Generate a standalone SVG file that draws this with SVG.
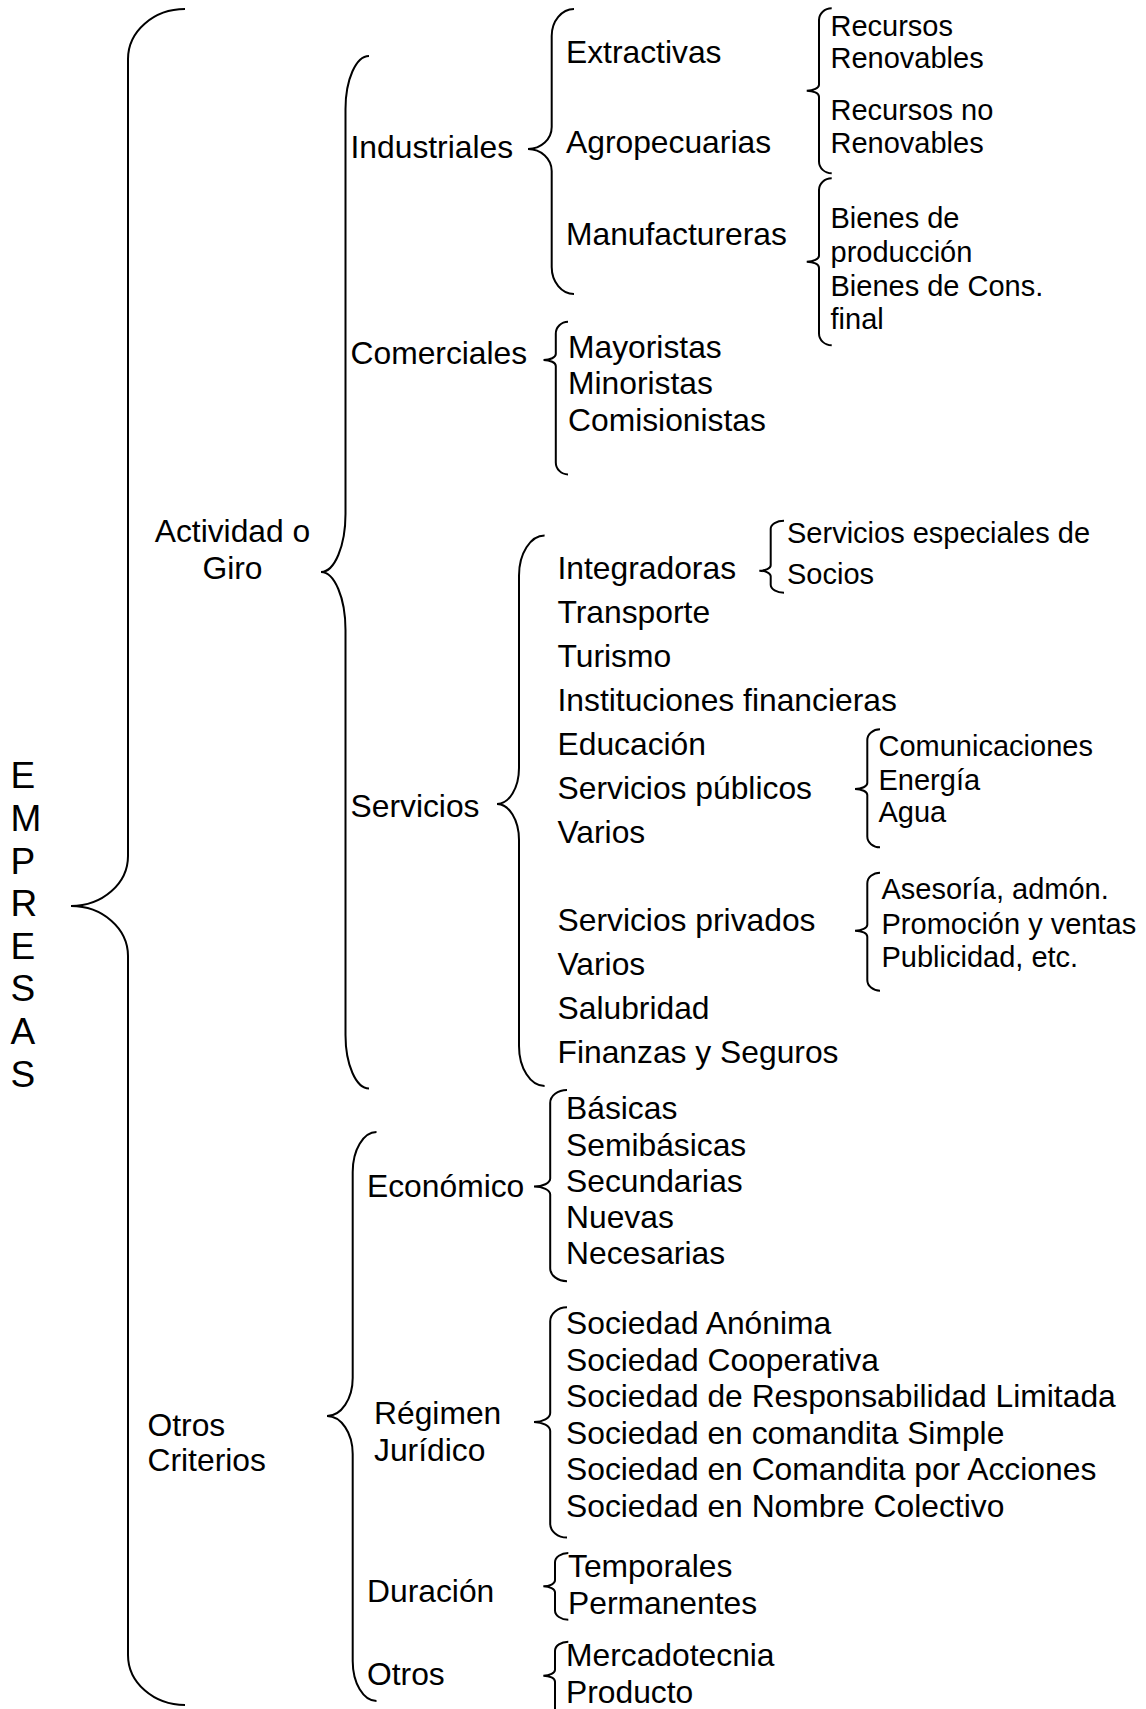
<svg xmlns="http://www.w3.org/2000/svg" width="1146" height="1709" viewBox="0 0 1146 1709">
<style>
text{font-family:"Liberation Sans",Arial,sans-serif;fill:#000}
.m{font-size:31.8px}
.s{font-size:29px}
.e{font-size:37px}
.b{fill:none;stroke:#000;stroke-width:2}
</style>
<rect width="1146" height="1709" fill="#fff"/>
<g id="connectors">
<path class="b" d="M185,9 C153.5,9 128,31.4 128,59 L128,856 C128,883.6 102.5,906 71,906 C102.5,906 128,928.4 128,956 L128,1655 C128,1682.6 153.5,1705 185,1705"/>
<path class="b" d="M369,56 C356,56 345.5,79.7 345.5,109 L345.5,514 C345.5,546 334.5,572 321,572 C334.5,572 345.5,598 345.5,630 L345.5,1035 C345.5,1064.3 356,1088.5 369,1088.5"/>
<path class="b" d="M574,9 C561.7,9 551.7,21.1 551.7,36 L551.7,127 C551.7,139.1 541.1,149 528,149 C541.1,149 551.7,158.9 551.7,171 L551.7,267 C551.7,281.9 561.7,294 574,294"/>
<path class="b" d="M831.7,8.3 C824.7,8.3 819,13.5 819,20 L819,84.7 C819,88 813.5,90.7 806.7,90.7 C813.5,90.7 819,93.4 819,96.7 L819,161.6 C819,168.1 824.7,173.3 831.7,173.3"/>
<path class="b" d="M831.7,178.3 C824.7,178.3 819,183.5 819,190 L819,255.7 C819,259 813.5,261.7 806.7,261.7 C813.5,261.7 819,264.4 819,267.7 L819,333.6 C819,340.1 824.7,345.3 831.7,345.3"/>
<path class="b" d="M568,321.7 C561.3,321.7 555.8,327.1 555.8,333.7 L555.8,354 C555.8,357.3 550.3,360 543.5,360 C550.3,360 555.8,362.7 555.8,366 L555.8,462.4 C555.8,469 561.3,474.4 568,474.4"/>
<path class="b" d="M544.6,535.6 C530.5,535.6 519,553.5 519,575.6 L519,768 C519,787.9 509.1,804 497,804 C509.1,804 519,820.1 519,840 L519,1046 C519,1068.1 530.5,1086 544.6,1086"/>
<path class="b" d="M784,520.7 C776.7,520.7 770.7,524.3 770.7,528.7 L770.7,565.2 C770.7,568.2 765.6,570.7 759.3,570.7 C765.6,570.7 770.7,573.2 770.7,576.2 L770.7,584.7 C770.7,589.1 776.7,592.7 784,592.7"/>
<path class="b" d="M880,729.3 C873,729.3 867.3,734.1 867.3,740 L867.3,783 C867.3,786.3 861.8,789 855,789 C861.8,789 867.3,791.7 867.3,795 L867.3,836.6 C867.3,842.5 873,847.3 880,847.3"/>
<path class="b" d="M880,872.7 C873,872.7 867.3,877.5 867.3,883.4 L867.3,924.7 C867.3,928 861.8,930.7 855,930.7 C861.8,930.7 867.3,933.4 867.3,936.7 L867.3,980 C867.3,985.9 873,990.7 880,990.7"/>
<path class="b" d="M376.5,1132 C363.4,1132 352.7,1149.9 352.7,1172 L352.7,1378 C352.7,1399 341.2,1416 327,1416 C341.2,1416 352.7,1433 352.7,1454 L352.7,1661 C352.7,1683.1 363.4,1701 376.5,1701"/>
<path class="b" d="M567,1090 C557.7,1090 550.2,1095.8 550.2,1103 L550.2,1178.6 C550.2,1183 542.9,1186.6 534,1186.6 C542.9,1186.6 550.2,1190.2 550.2,1194.6 L550.2,1268.2 C550.2,1275.4 557.7,1281.2 567,1281.2"/>
<path class="b" d="M567,1307.3 C557.7,1307.3 550.2,1313.6 550.2,1321.3 L550.2,1413 C550.2,1418 542.9,1422 534,1422 C542.9,1422 550.2,1426 550.2,1431 L550.2,1523.6 C550.2,1531.3 557.7,1537.6 567,1537.6"/>
<path class="b" d="M568.3,1553 C561,1553 555,1557.2 555,1562.3 L555,1580.3 C555,1583.6 549.8,1586.3 543.3,1586.3 C549.8,1586.3 555,1589 555,1592.3 L555,1610.4 C555,1615.5 561,1619.7 568.3,1619.7"/>
<path class="b" d="M568.3,1641.7 C561,1641.7 555,1645.9 555,1651 L555,1669.7 C555,1673 549.8,1675.7 543.3,1675.7 C549.8,1675.7 555,1678.4 555,1681.7 L555,1712"/>
</g>
<g id="empresas" class="e">
<text x="10.4" y="788.3">E</text>
<text x="10.4" y="830.9">M</text>
<text x="10.4" y="873.5">P</text>
<text x="10.4" y="916.1">R</text>
<text x="10.4" y="958.7">E</text>
<text x="10.4" y="1001.3">S</text>
<text x="10.4" y="1043.9">A</text>
<text x="10.4" y="1086.5">S</text>
</g>
<g id="actividad" class="m" text-anchor="middle">
<text x="232.5" y="542">Actividad o</text>
<text x="232.5" y="579">Giro</text>
</g>
<g id="industriales" class="m"><text x="350.5" y="158">Industriales</text></g>
<g id="comerciales" class="m"><text x="350.5" y="363.5">Comerciales</text></g>
<g id="servicios" class="m"><text x="350.5" y="816.5">Servicios</text></g>
<g id="industriales-items" class="m">
<text x="566" y="62.5">Extractivas</text>
<text x="566" y="152.7">Agropecuarias</text>
<text x="566" y="245.4">Manufactureras</text>
</g>
<g id="recursos" class="s">
<text x="830.5" y="36">Recursos</text>
<text x="830.5" y="68.3">Renovables</text>
<text x="830.5" y="120">Recursos no</text>
<text x="830.5" y="152.5">Renovables</text>
</g>
<g id="bienes" class="s">
<text x="830.5" y="228.3">Bienes de</text>
<text x="830.5" y="261.5">producción</text>
<text x="830.5" y="296.3">Bienes de Cons.</text>
<text x="830.5" y="329">final</text>
</g>
<g id="comerciales-items" class="m">
<text x="568" y="358">Mayoristas</text>
<text x="568" y="394.4">Minoristas</text>
<text x="568" y="430.8">Comisionistas</text>
</g>
<g id="servicios-items" class="m">
<text x="557.5" y="578.5">Integradoras</text>
<text x="557.5" y="622.5">Transporte</text>
<text x="557.5" y="666.5">Turismo</text>
<text x="557.5" y="710.5">Instituciones financieras</text>
<text x="557.5" y="754.5">Educación</text>
<text x="557.5" y="798.5">Servicios públicos</text>
<text x="557.5" y="842.5">Varios</text>
<text x="557.5" y="930.5">Servicios privados</text>
<text x="557.5" y="974.5">Varios</text>
<text x="557.5" y="1018.6">Salubridad</text>
<text x="557.5" y="1062.6">Finanzas y Seguros</text>
</g>
<g id="integradoras-items" class="s">
<text x="787" y="543">Servicios especiales de</text>
<text x="787" y="583.5">Socios</text>
</g>
<g id="publicos-items" class="s">
<text x="878.5" y="756">Comunicaciones</text>
<text x="878.5" y="790">Energía</text>
<text x="878.5" y="821.7">Agua</text>
</g>
<g id="privados-items" class="s">
<text x="881.5" y="899.3">Asesoría, admón.</text>
<text x="881.5" y="934">Promoción y ventas</text>
<text x="881.5" y="967.3">Publicidad, etc.</text>
</g>
<g id="otros-criterios" class="m">
<text x="147.5" y="1436">Otros</text>
<text x="147.5" y="1471">Criterios</text>
</g>
<g id="economico" class="m"><text x="367" y="1197">Económico</text></g>
<g id="regimen" class="m">
<text x="374" y="1424">Régimen</text>
<text x="374" y="1461">Jurídico</text>
</g>
<g id="duracion" class="m"><text x="367" y="1601.5">Duración</text></g>
<g id="otros" class="m"><text x="367" y="1684.7">Otros</text></g>
<g id="economico-items" class="m">
<text x="566" y="1119.4">Básicas</text>
<text x="566" y="1155.6">Semibásicas</text>
<text x="566" y="1191.8">Secundarias</text>
<text x="566" y="1228">Nuevas</text>
<text x="566" y="1264.2">Necesarias</text>
</g>
<g id="regimen-items" class="m">
<text x="566" y="1334">Sociedad Anónima</text>
<text x="566" y="1370.6">Sociedad Cooperativa</text>
<text x="566" y="1407.2">Sociedad de Responsabilidad Limitada</text>
<text x="566" y="1443.8">Sociedad en comandita Simple</text>
<text x="566" y="1480.4">Sociedad en Comandita por Acciones</text>
<text x="566" y="1517">Sociedad en Nombre Colectivo</text>
</g>
<g id="duracion-items" class="m">
<text x="568" y="1577.3">Temporales</text>
<text x="568" y="1614">Permanentes</text>
</g>
<g id="otros-items" class="m">
<text x="566" y="1666.3">Mercadotecnia</text>
<text x="566" y="1703">Producto</text>
</g>
</svg>
